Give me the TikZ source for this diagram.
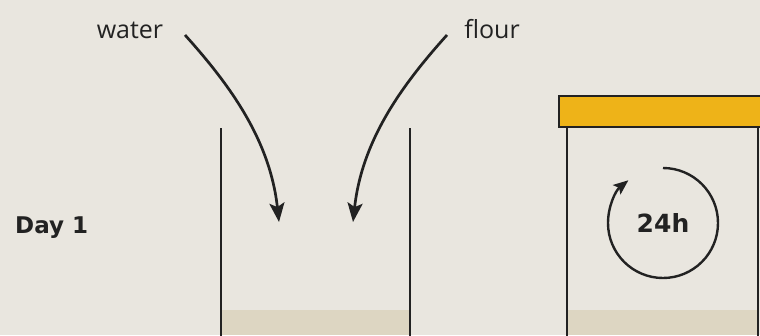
\documentclass[tikz,border=0pt]{standalone}
\usepackage{fontspec}
\setmainfont{Open Sans}
\newfontfamily\boldface{DejaVu Sans}
\usetikzlibrary{arrows.meta}
\definecolor{paper}{HTML}{E9E6DF}
\definecolor{ink}{HTML}{222222}
\definecolor{starter}{HTML}{DDD6C2}
\definecolor{lidcol}{HTML}{EEB318}
\tikzset{
  wall/.style={draw=ink, line width=2.3pt},
  flow/.style={draw=ink, line width=2.7pt, -{Stealth[length=19pt,width=15pt,inset=4pt]}},
  label/.style={text=ink, inner sep=0pt, font=\fontsize{25}{25}\selectfont},
  daylabel/.style={text=ink, inner sep=0pt, font=\fontsize{23}{23}\selectfont\boldface\bfseries},
}
\begin{document}
\begin{tikzpicture}[x=1pt,y=-1pt]
\fill[paper] (0,0) rectangle (760,335);
\useasboundingbox (0,0) rectangle (760,335);
% jar 1
\fill[starter] (221,310) rectangle (410,335);
\draw[wall] (221,128) -- (221,336);
\draw[wall] (410,128) -- (410,336);
% jar 2
\fill[starter] (567,310) rectangle (758,335);
\draw[wall] (567,127) -- (567,336);
\draw[wall] (758,127) -- (758,336);
\draw[draw=ink, line width=2.3pt, fill=lidcol] (559,96) rectangle (770,127);
% labels
\node[label, anchor=base] (water) at (130,38) {water};
\node[label, anchor=base] (flour) at (492,38) {flour};
\node[daylabel, anchor=base west] (day) at (15,233) {Day 1};
% arrows
\coordinate (ws) at (185,35);
\coordinate (we) at (279,222);
\coordinate (fs) at (447,35);
\coordinate (fe) at (353,222);
\draw[flow] (ws) .. controls (230,85) and (270,140) .. (we);
\draw[flow] (fs) .. controls (402,85) and (362,140) .. (fe);
% timer
\node[text=ink, inner sep=0pt, font=\fontsize{25}{25}\selectfont\boldface\bfseries] (timer) at (663,223) {24h};
\draw[draw=ink, line width=2.4pt, -{Stealth[length=15pt,width=12pt,inset=3pt]}] (timer.center) ++(0,-55) arc[start angle=-90, end angle=231, radius=55];
\end{tikzpicture}
\end{document}
